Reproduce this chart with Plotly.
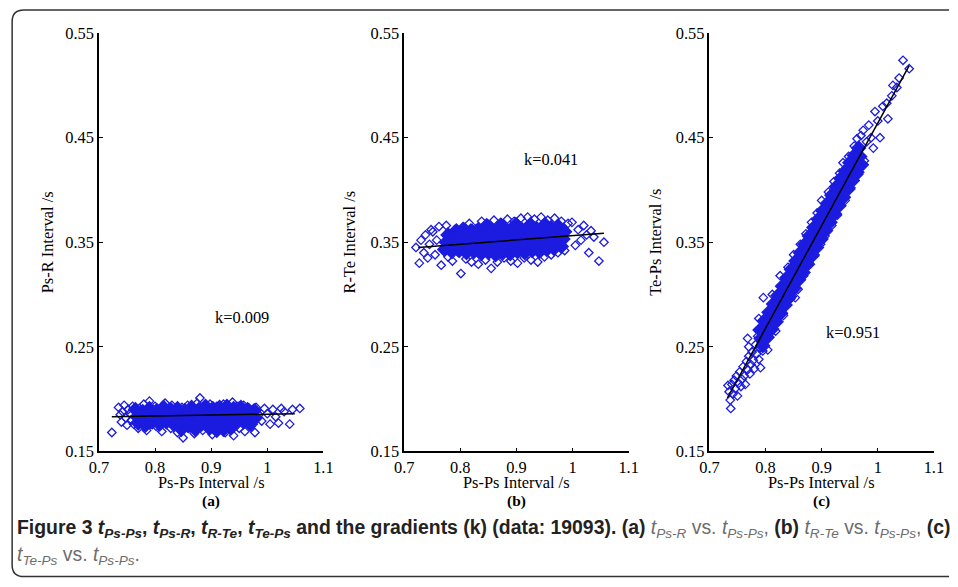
import plotly.graph_objects as go

# ---------------- data ----------------
x_ticks = [0.7, 0.8, 0.9, 1.0, 1.1]
x_tick_text = ["0.7", "0.8", "0.9", "1", "1.1"]
y_ticks = [0.15, 0.25, 0.35, 0.45, 0.55]
y_tick_text = ["0.15", "0.25", "0.35", "0.45", "0.55"]

panel_labels = ["(a)", "(b)", "(c)"]
y_titles = ["Ps-R Interval /s", "R-Te Interval /s", "Te-Ps Interval /s"]
x_title = "Ps-Ps Interval /s"
k_values = ["0.009", "0.041", "0.951"]

# panel (a): t_Ps-R vs t_Ps-Ps
a_outer = [(0.723,0.168),(0.735,0.192),(0.738,0.185),(0.740,0.178),(0.742,0.188),(0.745,0.194),
           (0.748,0.182),(0.750,0.175),(0.752,0.190),(0.755,0.186),(0.758,0.180),(0.760,0.193),
           (0.762,0.176),(0.765,0.188),(0.768,0.183),(0.770,0.172),(0.772,0.191),(0.775,0.185),
           (0.778,0.179),(0.780,0.195),(0.782,0.187),(0.785,0.170),(0.788,0.183),(0.790,0.198),
           (0.792,0.176),(0.795,0.189),(0.798,0.181),(0.800,0.193),(0.802,0.174),(0.805,0.186),
           (0.808,0.179),(0.810,0.191),(0.812,0.169),(0.815,0.184),(0.818,0.196),(0.820,0.177),
           (0.822,0.188),(0.825,0.182),(0.828,0.172),(0.830,0.194),(0.832,0.186),(0.835,0.178),
           (0.838,0.190),(0.840,0.168),(0.842,0.183),(0.845,0.175),(0.848,0.192),(0.850,0.163),
           (0.852,0.187),(0.855,0.180),(0.858,0.194),(0.860,0.172),(0.862,0.185),(0.865,0.177),
           (0.868,0.190),(0.870,0.167),(0.872,0.182),(0.875,0.196),(0.878,0.175),(0.880,0.201),
           (0.882,0.186),(0.885,0.170),(0.888,0.192),(0.890,0.179),(0.892,0.184),(0.895,0.173),
           (0.898,0.195),(0.900,0.181),(0.902,0.166),(0.905,0.189),(0.908,0.176),(0.910,0.193),
           (0.912,0.183),(0.915,0.171),(0.918,0.187),(0.920,0.178),(0.922,0.195),(0.925,0.168),
           (0.928,0.185),(0.930,0.190),(0.932,0.174),(0.935,0.182),(0.938,0.197),(0.940,0.165),
           (0.942,0.188),(0.945,0.179),(0.948,0.193),(0.950,0.172),(0.952,0.186),(0.955,0.181),
           (0.958,0.194),(0.960,0.169),(0.962,0.184),(0.965,0.177),(0.968,0.191),(0.970,0.174),
           (0.972,0.187),(0.975,0.182),(0.978,0.168),(0.980,0.192),(0.985,0.185),(0.990,0.179),
           (0.995,0.191),(1.000,0.186),(1.005,0.176),(1.010,0.190),(1.015,0.183),(1.020,0.177),
           (1.025,0.191),(1.030,0.188),(1.040,0.176),(1.045,0.190),(1.058,0.191)]
a_core = [(0.765,0.190),(0.768,0.183),(0.770,0.177),(0.778,0.188),(0.781,0.181),(0.783,0.175),
          (0.790,0.191),(0.793,0.184),(0.795,0.178),(0.803,0.189),(0.805,0.182),(0.808,0.176),
          (0.815,0.192),(0.818,0.185),(0.820,0.178),(0.828,0.190),(0.830,0.183),(0.833,0.176),
          (0.840,0.191),(0.843,0.184),(0.845,0.177),(0.847,0.171),(0.853,0.189),(0.855,0.182),
          (0.858,0.175),(0.865,0.192),(0.868,0.185),(0.870,0.178),(0.872,0.171),(0.878,0.190),
          (0.880,0.183),(0.883,0.176),(0.890,0.193),(0.893,0.186),(0.895,0.179),(0.897,0.172),
          (0.903,0.191),(0.905,0.184),(0.908,0.177),(0.910,0.170),(0.915,0.192),(0.918,0.185),
          (0.920,0.178),(0.922,0.171),(0.928,0.193),(0.930,0.186),(0.933,0.179),(0.935,0.172),
          (0.940,0.191),(0.943,0.184),(0.945,0.177),(0.953,0.192),(0.955,0.185),(0.958,0.178),
          (0.965,0.190),(0.968,0.183),(0.970,0.176),(0.977,0.189),(0.979,0.182)]
a_fit_x = [0.723, 1.049]
a_fit_y = [0.183, 0.186]

# panel (b): t_R-Te vs t_Ps-Ps
b_outer = [(0.721,0.345),(0.727,0.330),(0.730,0.352),(0.735,0.340),(0.738,0.357),(0.742,0.335),
           (0.745,0.348),(0.748,0.362),(0.751,0.360),(0.755,0.338),(0.758,0.352),(0.762,0.365),
           (0.766,0.328),(0.770,0.344),(0.775,0.366),(0.778,0.336),(0.782,0.357),(0.786,0.332),
           (0.790,0.362),(0.795,0.341),(0.801,0.320),(0.805,0.365),(0.810,0.334),(0.816,0.368),
           (0.820,0.331),(0.826,0.363),(0.832,0.329),(0.838,0.370),(0.845,0.333),(0.850,0.367),
           (0.855,0.325),(0.860,0.371),(0.866,0.331),(0.872,0.369),(0.878,0.335),(0.884,0.372),
           (0.890,0.332),(0.896,0.370),(0.902,0.330),(0.908,0.373),(0.914,0.335),(0.920,0.374),
           (0.926,0.333),(0.932,0.372),(0.938,0.331),(0.944,0.374),(0.950,0.336),(0.956,0.371),
           (0.962,0.338),(0.968,0.373),(0.974,0.340),(0.980,0.370),(0.986,0.342),(0.992,0.368),
           (0.999,0.369),(1.005,0.347),(1.010,0.362),(1.015,0.352),(1.020,0.366),(1.025,0.357),
           (1.029,0.340),(1.033,0.361),(1.038,0.355),(1.047,0.332),(1.056,0.350)]
b_core = [(0.772,0.343),(0.775,0.350),(0.778,0.357),(0.785,0.341),(0.788,0.348),(0.791,0.355),
          (0.793,0.361),(0.798,0.342),(0.801,0.349),(0.804,0.356),(0.806,0.362),(0.811,0.340),
          (0.814,0.347),(0.817,0.354),(0.819,0.361),(0.824,0.341),(0.827,0.348),(0.830,0.355),
          (0.832,0.362),(0.837,0.339),(0.840,0.346),(0.843,0.353),(0.845,0.360),(0.847,0.366),
          (0.850,0.340),(0.853,0.347),(0.856,0.354),(0.858,0.361),(0.863,0.338),(0.866,0.345),
          (0.869,0.352),(0.871,0.359),(0.873,0.366),(0.876,0.340),(0.879,0.347),(0.882,0.354),
          (0.884,0.361),(0.889,0.339),(0.892,0.346),(0.895,0.353),(0.897,0.360),(0.899,0.367),
          (0.902,0.341),(0.905,0.348),(0.908,0.355),(0.910,0.362),(0.915,0.340),(0.918,0.347),
          (0.921,0.354),(0.923,0.361),(0.925,0.367),(0.928,0.342),(0.931,0.349),(0.934,0.356),
          (0.936,0.363),(0.941,0.341),(0.944,0.348),(0.947,0.355),(0.949,0.362),(0.951,0.367),
          (0.954,0.343),(0.957,0.350),(0.960,0.357),(0.962,0.364),(0.967,0.344),(0.970,0.351),
          (0.973,0.358),(0.975,0.365),(0.980,0.346),(0.983,0.353),(0.986,0.360)]
b_fit_x = [0.725, 1.056]
b_fit_y = [0.345, 0.3586]

# panel (c): t_Te-Ps vs t_Ps-Ps
c_outer = [(0.733,0.213),(0.735,0.207),(0.737,0.199),(0.738,0.191),(0.740,0.214),(0.742,0.205),
           (0.744,0.218),(0.746,0.210),(0.748,0.222),(0.750,0.203),(0.752,0.215),(0.754,0.226),
           (0.756,0.212),(0.758,0.219),(0.760,0.231),(0.762,0.222),(0.764,0.214),(0.766,0.236),
           (0.768,0.228),(0.770,0.241),(0.772,0.224),(0.774,0.233),(0.776,0.245),(0.778,0.237),
           (0.780,0.229),(0.782,0.252),(0.784,0.243),(0.786,0.260),(0.788,0.238),(0.790,0.249),
           (0.792,0.268),(0.795,0.246),(0.768,0.258),(0.770,0.250),(0.788,0.277),(0.796,0.297),
           (0.791,0.230),(0.804,0.247),(0.812,0.300),(0.818,0.265),(0.826,0.318),(0.832,0.280),
           (0.840,0.326),(0.845,0.296),(0.853,0.297),(0.850,0.338),(0.858,0.305),(0.862,0.348),
           (0.868,0.318),(0.872,0.358),(0.878,0.330),(0.882,0.369),(0.888,0.338),(0.892,0.378),
           (0.898,0.348),(0.900,0.390),(0.906,0.356),(0.912,0.398),(0.918,0.366),(0.922,0.408),
           (0.928,0.376),(0.932,0.416),(0.938,0.426),(0.942,0.390),(0.948,0.432),(0.952,0.402),
           (0.958,0.442),(0.963,0.449),(0.966,0.415),(0.970,0.452),(0.974,0.457),(0.976,0.428),
           (0.980,0.446),(0.984,0.462),(0.988,0.450),(0.992,0.440),(0.995,0.475),(1.000,0.466),
           (1.004,0.450),(1.009,0.480),(1.016,0.483),(1.018,0.468),(1.025,0.490),(1.027,0.500),
           (1.034,0.498),(1.038,0.507),(1.045,0.524),(1.056,0.516)]
c_core = [(0.790,0.266),(0.792,0.258),(0.795,0.251),(0.798,0.275),(0.800,0.266),(0.803,0.259),
          (0.806,0.283),(0.808,0.275),(0.811,0.267),(0.814,0.291),(0.816,0.283),(0.819,0.274),
          (0.822,0.299),(0.824,0.291),(0.827,0.282),(0.830,0.308),(0.832,0.299),(0.835,0.290),
          (0.838,0.316),(0.840,0.307),(0.843,0.298),(0.846,0.324),(0.848,0.315),(0.851,0.306),
          (0.854,0.332),(0.856,0.323),(0.859,0.314),(0.862,0.340),(0.864,0.331),(0.867,0.321),
          (0.870,0.348),(0.872,0.339),(0.875,0.329),(0.878,0.356),(0.880,0.347),(0.883,0.337),
          (0.886,0.364),(0.888,0.355),(0.891,0.345),(0.894,0.372),(0.896,0.363),(0.899,0.353),
          (0.902,0.380),(0.904,0.371),(0.907,0.361),(0.910,0.387),(0.912,0.378),(0.915,0.369),
          (0.918,0.395),(0.920,0.386),(0.923,0.377),(0.926,0.403),(0.928,0.394),(0.931,0.385),
          (0.934,0.411),(0.936,0.402),(0.939,0.393),(0.942,0.418),(0.944,0.410),(0.947,0.401),
          (0.950,0.426),(0.952,0.417),(0.955,0.409),(0.958,0.433),(0.960,0.425),(0.963,0.417),
          (0.966,0.440),(0.968,0.432),(0.971,0.424)]
c_fit_x = [0.732, 1.056]
c_fit_y = [0.201, 0.519]

# ---------------- styling / layout ----------------
# The captured page keeps an 8px body margin and is scaled slightly to the
# window, so target window pixels are converted to figure pixels first.
OFF = 8
KX, KY = 958 / 976, 587 / 604
W, H = 960, 588
BLUE = "#1c1ce0"
SERIF = "Liberation Serif, Times New Roman, serif"
SANS = "Liberation Sans, Arial, sans-serif"

def px_x(p):
    return (p / KX - OFF) / W

def px_y(p):
    return 1 - (p / KY - OFF) / H

FS = 16.4  # serif text size

x_domains = [(97, 322), (403, 628), (709, 934)]
y_dom = [px_y(452), px_y(32)]
ytitle_x = [45, 348, 655]
k_pos = [(240, 318), (550, 159), (853, 333)]

panels = [(a_outer, a_core, a_fit_x, a_fit_y),
          (b_outer, b_core, b_fit_x, b_fit_y),
          (c_outer, c_core, c_fit_x, c_fit_y)]

fig = go.Figure()
layout = dict(width=W, height=H, margin=dict(l=0, r=0, t=0, b=0),
              paper_bgcolor="white", plot_bgcolor="white", showlegend=False)
annotations = []

def ann(text, x, y, size=FS, family=SERIF, xanchor="center", angle=0, color="black"):
    return dict(text=text, x=x, y=y, xref="paper", yref="paper", xanchor=xanchor,
                yanchor="middle", showarrow=False, textangle=angle,
                font=dict(family=family, size=size, color=color))

for i, (outer, core, fx, fy) in enumerate(panels):
    sfx = "" if i == 0 else str(i + 1)
    xa, ya = "x" + sfx, "y" + sfx
    fig.add_trace(go.Scatter(x=[p[0] for p in core], y=[p[1] for p in core], xaxis=xa, yaxis=ya,
                             mode="markers", hoverinfo="skip",
                             marker=dict(symbol="diamond", size=12, color=BLUE, line=dict(width=0))))
    fig.add_trace(go.Scatter(x=[p[0] for p in outer], y=[p[1] for p in outer], xaxis=xa, yaxis=ya,
                             mode="markers",
                             marker=dict(symbol="diamond-open", size=6.5, color=BLUE, line=dict(width=1.3))))
    fig.add_trace(go.Scatter(x=fx, y=fy, xaxis=xa, yaxis=ya, mode="lines",
                             line=dict(color="black", width=1.5)))
    d0, d1 = x_domains[i]
    axis_common = dict(ticks="inside", ticklen=4, tickwidth=1.2, tickcolor="black", showline=True,
                       linecolor="black", linewidth=1.5, showgrid=False, zeroline=False,
                       tickfont=dict(family=SERIF, size=FS, color="black"))
    layout["xaxis" + sfx] = dict(domain=[px_x(d0), px_x(d1)], range=[0.7, 1.1], anchor=ya,
                                 tickvals=x_ticks, ticktext=x_tick_text, **axis_common)
    layout["yaxis" + sfx] = dict(domain=y_dom, range=[0.15, 0.55], anchor=xa,
                                 tickvals=y_ticks, ticktext=y_tick_text, **axis_common)
    cx = px_x((d0 + d1) / 2)
    annotations.append(ann(x_title, cx, px_y(483)))
    annotations.append(ann("<b>" + panel_labels[i] + "</b>", cx, px_y(502), size=15.4))
    annotations.append(ann(y_titles[i], px_x(ytitle_x[i]), px_y(242), angle=-90))
    annotations.append(ann("k=" + k_values[i], px_x(k_pos[i][0]), px_y(k_pos[i][1])))

GRAY = "#6d6d6d"

def tsub(s):
    return "<i>t</i><sub><i>" + s + "</i></sub>"

cap1 = ("<b>Figure 3 " + tsub("Ps-Ps") + ", " + tsub("Ps-R") + ", " + tsub("R-Te") + ", "
        + tsub("Te-Ps") + " and the gradients (k) (data: 19093). (a)</b> "
        + "<span style='color:" + GRAY + "'>" + tsub("Ps-R") + " vs. " + tsub("Ps-Ps") + ",</span> "
        + "<b>(b)</b> <span style='color:" + GRAY + "'>" + tsub("R-Te") + " vs. " + tsub("Ps-Ps")
        + ",</span> <b>(c)</b>")
cap2 = "<span style='color:" + GRAY + "'>" + tsub("Te-Ps") + " vs. " + tsub("Ps-Ps") + ".</span>"
annotations.append(ann(cap1, px_x(13), px_y(530), size=19.4, family=SANS, xanchor="left", color="#222"))
annotations.append(ann(cap2, px_x(13), px_y(557), size=19.4, family=SANS, xanchor="left", color="#222"))

layout["annotations"] = annotations

# rounded border frame, kept strictly inside the figure so the page never overflows
l, t, b, r = px_x(10), 1 - 1.0 / H, 1.5 / H, 0.999
rx, ry = 12 / W, 12 / H
path = (f"M {r},{t} L {l+rx},{t} Q {l},{t} {l},{t-ry} L {l},{b+ry} Q {l},{b} {l+rx},{b} L {r},{b}")
layout["shapes"] = [dict(type="path", path=path, xref="paper", yref="paper",
                         line=dict(color="#333333", width=1.5))]

fig.update_layout(**layout)
fig.write_html("out.html")
